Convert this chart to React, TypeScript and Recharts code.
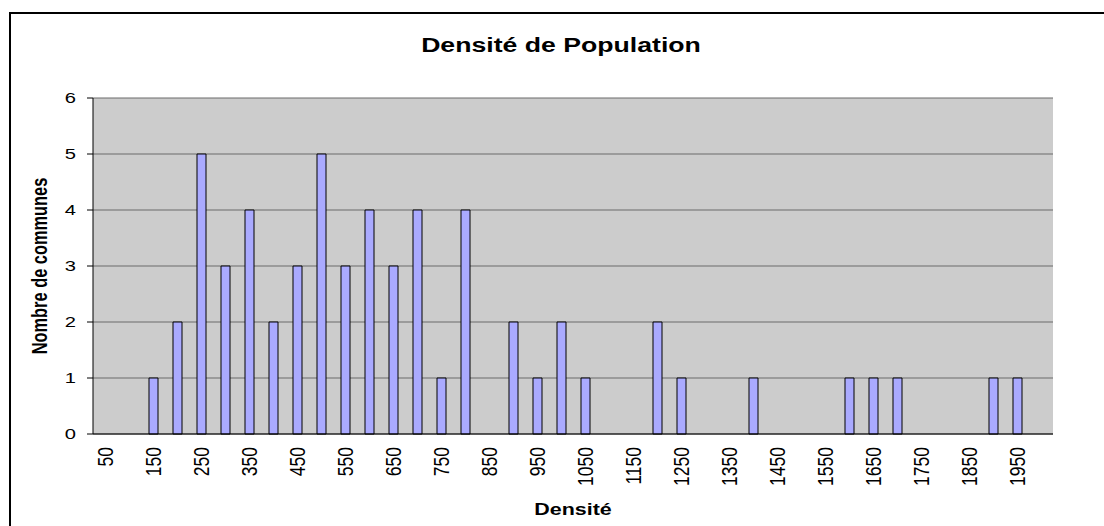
import { Bar, BarChart, CartesianGrid, XAxis, YAxis } from "recharts";

// Densité (hab/km²), une classe tous les 50
const densites = [
  50, 100, 150, 200, 250, 300, 350, 400, 450, 500,
  550, 600, 650, 700, 750, 800, 850, 900, 950, 1000,
  1050, 1100, 1150, 1200, 1250, 1300, 1350, 1400, 1450, 1500,
  1550, 1600, 1650, 1700, 1750, 1800, 1850, 1900, 1950, 2000,
];

// Nombre de communes par classe
const communes = [
  0, 0, 1, 2, 5, 3, 4, 2, 3, 5,
  3, 4, 3, 4, 1, 4, 0, 2, 1, 2,
  1, 0, 0, 2, 1, 0, 0, 1, 0, 0,
  0, 1, 1, 1, 0, 0, 0, 1, 1, 0,
];

const graduationsY = [0, 1, 2, 3, 4, 5, 6];

const titre = "Densité de Population";
const titreX = "Densité";
const titreY = "Nombre de communes";

const donnees = densites.map((densite, i) => ({ densite, communes: communes[i] }));
// limites des classes, pour les petits traits de l'axe X
const bordures = [...densites.map((d) => d - 25), densites[densites.length - 1] + 25];

const ETIRE = 1.3; // le graphique d'origine est étiré horizontalement
const POLICE = "'Liberation Sans', Arial, sans-serif";

function TickX({ x, y, payload }: any) {
  return (
    <g transform={`translate(${x},${y}) scale(${ETIRE},1) rotate(-90)`}>
      <text textAnchor="end" dominantBaseline="central" fontSize={17.5} fontFamily={POLICE} fill="#000">
        {payload.value}
      </text>
    </g>
  );
}

function TickY({ x, y, payload }: any) {
  return (
    <g transform={`translate(${x},${y}) scale(${ETIRE},1)`}>
      <text textAnchor="end" dominantBaseline="central" fontSize={15.5} fontFamily={POLICE} fill="#000">
        {payload.value}
      </text>
    </g>
  );
}

export default function App() {
  return (
    <div style={{ position: "absolute", left: 0, top: 0, width: 1104, height: 526, background: "#fff", overflow: "hidden" }}>
      <div
        style={{
          position: "absolute",
          left: 9,
          top: 12,
          width: 1095,
          height: 514,
          borderTop: "2px solid #000",
          borderLeft: "2px solid #000",
          boxSizing: "border-box",
        }}
      />
      <div style={{ position: "absolute", left: 0, top: 0 }}>
        <BarChart width={1104} height={526} data={donnees} margin={{ top: 98, right: 51, bottom: 0, left: 0 }}>
          <CartesianGrid vertical={false} stroke="#6a6a6a" fill="#cccccc" fillOpacity={1} />
          <XAxis
            xAxisId="bords"
            type="number"
            domain={[bordures[0], bordures[bordures.length - 1]]}
            ticks={bordures}
            allowDataOverflow
            tick={false}
            tickSize={5}
            tickLine={{ stroke: "#000" }}
            axisLine={false}
            height={0}
          />
          <XAxis
            dataKey="densite"
            interval={1}
            tick={<TickX />}
            tickLine={false}
            tickSize={0}
            tickMargin={13}
            axisLine={{ stroke: "#000" }}
            height={92}
          />
          <YAxis
            domain={[0, 6]}
            ticks={graduationsY}
            tick={<TickY />}
            tickSize={6}
            tickMargin={11}
            tickLine={{ stroke: "#000" }}
            axisLine={{ stroke: "#000" }}
            width={93}
          />
          <YAxis yAxisId="droite" orientation="right" width={0} tick={false} tickLine={false} axisLine={{ stroke: "#8a8a8a" }} />
          <Bar dataKey="communes" barSize={9} fill="#aaaaff" stroke="#000" strokeWidth={1} isAnimationActive={false} />
        </BarChart>
      </div>
      <svg width={1104} height={526} style={{ position: "absolute", left: 0, top: 0, pointerEvents: "none" }}>
        <text
          transform={`translate(561,52) scale(${ETIRE},1)`}
          textAnchor="middle"
          fontSize={20.5}
          fontWeight="bold"
          fontFamily={POLICE}
          fill="#000"
        >
          {titre}
        </text>
        <text
          transform={`translate(573,515) scale(${ETIRE},1)`}
          textAnchor="middle"
          fontSize={16.5}
          fontWeight="bold"
          fontFamily={POLICE}
          fill="#000"
        >
          {titreX}
        </text>
        <text
          transform={`translate(40,266) scale(${ETIRE},1) rotate(-90)`}
          textAnchor="middle"
          dominantBaseline="central"
          fontSize={16.4}
          fontWeight="bold"
          fontFamily={POLICE}
          fill="#000"
        >
          {titreY}
        </text>
      </svg>
    </div>
  );
}
